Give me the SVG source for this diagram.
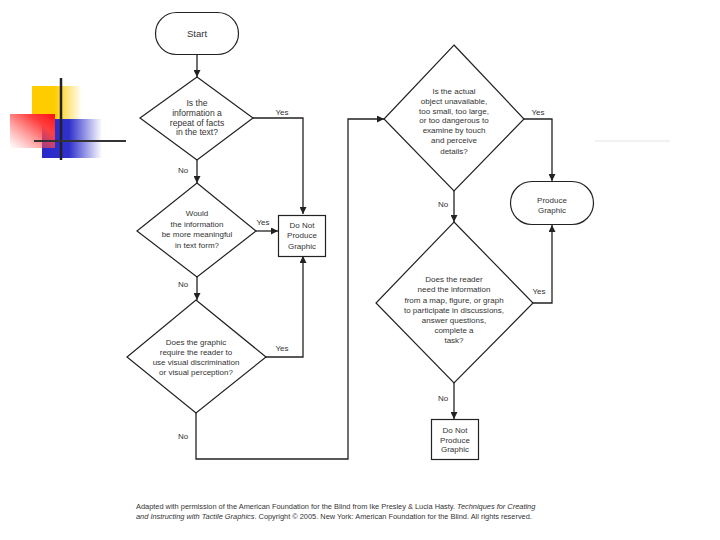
<svg xmlns="http://www.w3.org/2000/svg" width="720" height="540" viewBox="0 0 720 540">
<defs>
<style>
.n{fill:#fff;stroke:#222;stroke-width:1.2}
.c{fill:none;stroke:#222;stroke-width:1.3}
text{font-family:"Liberation Sans",Arial,sans-serif;font-size:8px;fill:#333;text-anchor:middle}
.s{font-size:9.5px}
.q1{font-size:8.6px}
.f{font-size:7.4px;text-anchor:start;fill:#333}
</style>
<marker id="a" viewBox="0 0 10 10" refX="10" refY="5" markerWidth="7" markerHeight="7" markerUnits="userSpaceOnUse" orient="auto"><path d="M0,0L10,5L0,10z" fill="#222"/></marker>
<linearGradient id="gy" x1="0" x2="1" y1="0" y2="0"><stop offset="0" stop-color="#ffcc00"/><stop offset="0.45" stop-color="#ffcc00"/><stop offset="1" stop-color="#ffcc00" stop-opacity="0"/></linearGradient>
<linearGradient id="gb" x1="0" x2="1" y1="0" y2="0"><stop offset="0" stop-color="#2a2acc"/><stop offset="0.45" stop-color="#3030cc"/><stop offset="1" stop-color="#3030cc" stop-opacity="0"/></linearGradient>
<linearGradient id="gr" x1="1" x2="0" y1="0" y2="1"><stop offset="0" stop-color="#ff1010"/><stop offset="0.3" stop-color="#ff4040"/><stop offset="1" stop-color="#ff6060" stop-opacity="0"/></linearGradient>
</defs>
<rect width="720" height="540" fill="#fff"/>
<g id="decoration">
<rect x="32" y="86" width="50" height="33" fill="url(#gy)"/>
<rect x="42" y="119" width="60" height="39" fill="url(#gb)"/>
<rect x="10" y="114" width="45" height="34" fill="url(#gr)"/>
<line x1="61" y1="78" x2="61" y2="160" stroke="#222" stroke-width="2.5"/>
<line x1="34" y1="141" x2="126" y2="141" stroke="#333" stroke-width="2"/>
<line x1="595" y1="141" x2="670" y2="141" stroke="#eeeeee" stroke-width="1.5"/>
</g>
<g id="connectors">
<line class="c" x1="197" y1="55" x2="197" y2="77" marker-end="url(#a)"/>
<polyline class="c" points="253,118 303,118 303,214" marker-end="url(#a)"/>
<line class="c" x1="197" y1="160" x2="197" y2="183" marker-end="url(#a)"/>
<line class="c" x1="256" y1="231" x2="278" y2="231" marker-end="url(#a)"/>
<line class="c" x1="197" y1="277" x2="197" y2="300" marker-end="url(#a)"/>
<polyline class="c" points="266,357 303,357 303,256" marker-end="url(#a)"/>
<polyline class="c" points="196,413 196,459 348,459 348,119 384,119" marker-end="url(#a)"/>
<polyline class="c" points="524,119 552,119 552,181" marker-end="url(#a)"/>
<line class="c" x1="454" y1="191" x2="454" y2="222" marker-end="url(#a)"/>
<polyline class="c" points="533,303 552,303 552,225" marker-end="url(#a)"/>
<line class="c" x1="454" y1="383" x2="454" y2="419" marker-end="url(#a)"/>
<text x="282" y="115">Yes</text>
<text x="183" y="173">No</text>
<text x="263" y="225">Yes</text>
<text x="183" y="287">No</text>
<text x="282" y="351">Yes</text>
<text x="183" y="439">No</text>
<text x="538" y="115">Yes</text>
<text x="443" y="207">No</text>
<text x="539" y="294">Yes</text>
<text x="443" y="401">No</text>
</g>
<g id="start">
<rect class="n" x="155.5" y="12.5" width="83" height="42" rx="21"/>
<text class="s" x="197" y="37">Start</text>
</g>
<g id="q1">
<polygon class="n" points="197,77 253,118 197,160 140,118"/>
<text class="q1" x="197" y="106">Is the</text>
<text class="q1" x="197" y="116">information a</text>
<text class="q1" x="197" y="125.5">repeat of facts</text>
<text class="q1" x="197" y="135">in the text?</text>
</g>
<g id="q2">
<polygon class="n" points="197,183 256,231 197,277 137,231"/>
<text x="197" y="216">Would</text>
<text x="197" y="227">the information</text>
<text x="197" y="237">be more meaningful</text>
<text x="197" y="248">in text form?</text>
</g>
<g id="dnp1">
<rect class="n" x="278.5" y="215.5" width="47" height="41"/>
<text x="302" y="228">Do Not</text>
<text x="302" y="238">Produce</text>
<text x="302" y="249">Graphic</text>
</g>
<g id="q3">
<polygon class="n" points="196,300 266,357 196,413 127,357"/>
<text x="196" y="345">Does the graphic</text>
<text x="196" y="355">require the reader to</text>
<text x="196" y="365">use visual discrimination</text>
<text x="196" y="375">or visual perception?</text>
</g>
<g id="q4">
<polygon class="n" points="454,45 524,119 454,191 384,119"/>
<text x="454" y="94">Is the actual</text>
<text x="454" y="104">object unavailable,</text>
<text x="454" y="114">too small, too large,</text>
<text x="454" y="123">or too dangerous to</text>
<text x="454" y="133">examine by touch</text>
<text x="454" y="143">and perceive</text>
<text x="454" y="154">details?</text>
</g>
<g id="produce">
<rect class="n" x="510.5" y="181.5" width="83" height="43" rx="21.5"/>
<text x="552" y="203">Produce</text>
<text x="552" y="213">Graphic</text>
</g>
<g id="q5">
<polygon class="n" points="454,222 533,303 454,383 376,303"/>
<text x="454" y="282">Does the reader</text>
<text x="454" y="292">need the information</text>
<text x="454" y="303">from a map, figure, or graph</text>
<text x="454" y="313">to participate in discussions,</text>
<text x="454" y="323">answer questions,</text>
<text x="454" y="333">complete a</text>
<text x="454" y="343">task?</text>
</g>
<g id="dnp2">
<rect class="n" x="431.5" y="419.5" width="47" height="40"/>
<text x="455" y="433">Do Not</text>
<text x="455" y="443">Produce</text>
<text x="455" y="452">Graphic</text>
</g>
<g id="footer">
<text class="f" x="136" y="509">Adapted with permission of the American Foundation for the Blind from Ike Presley &amp; Lucia Hasty.  <tspan font-style="italic">Techniques for Creating</tspan></text>
<text class="f" x="136" y="519"><tspan font-style="italic">and Instructing with Tactile Graphics</tspan>. Copyright © 2005. New York: American Foundation for the Blind.  All rights reserved.</text>
</g>
</svg>
